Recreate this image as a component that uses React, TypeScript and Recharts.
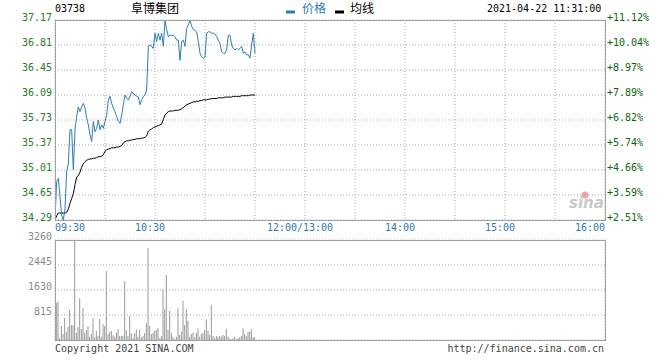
import React from 'react';
import { ComposedChart, Line, Bar, XAxis, YAxis, CartesianGrid } from 'recharts';

const priceValues = [
  34.29, 34.84, 34.89, 34.62, 34.36, 34.29, 34.45, 34.99, 35.10, 35.59,
  35.59, 35.01, 35.59, 35.78, 35.92, 35.85, 35.92, 35.97, 35.90, 35.76,
  35.66, 35.52, 35.42, 35.71, 35.56, 35.61, 35.73, 35.59, 35.66, 35.61,
  35.71, 35.80, 36.02, 36.07, 35.97, 35.90, 35.85, 35.78, 35.71, 35.68,
  35.80, 35.95, 36.09, 36.04, 36.02, 36.07, 36.14, 36.11, 36.09, 36.07,
  36.06, 35.95, 36.02, 36.07, 36.09, 36.16, 36.79, 36.81, 36.79, 36.76,
  36.98, 36.86, 36.98, 36.88, 36.98, 36.79, 37.17, 37.03, 36.93, 36.95,
  36.95, 36.95, 36.93, 36.88, 36.88, 36.59, 36.86, 36.88, 36.79, 37.05,
  37.10, 37.17, 37.08, 37.03, 37.02, 37.00, 36.86, 36.69, 36.64, 36.62,
  36.64, 36.98, 37.00, 37.00, 36.98, 36.98, 36.97, 36.93, 36.88, 36.83,
  36.71, 36.69, 36.69, 36.74, 36.95, 36.95, 36.81, 36.76, 36.74, 36.76,
  36.74, 36.76, 36.79, 36.69, 36.71, 36.67, 36.67, 36.62, 36.81, 36.98,
  36.69,
];

const avgValues = [
  34.29, 34.35, 34.39, 34.39, 34.39, 34.39, 34.39, 34.40, 34.45, 34.53,
  34.60, 34.67, 34.80, 34.91, 34.93, 34.98, 35.05, 35.10, 35.13, 35.15,
  35.16, 35.17, 35.17, 35.18, 35.18, 35.19, 35.20, 35.20, 35.21, 35.23,
  35.28, 35.30, 35.31, 35.32, 35.33, 35.33, 35.33, 35.34, 35.34, 35.35,
  35.36, 35.40, 35.42, 35.43, 35.43, 35.44, 35.44, 35.45, 35.45, 35.46,
  35.46, 35.46, 35.47, 35.47, 35.48, 35.50, 35.57, 35.59, 35.60, 35.62,
  35.63, 35.64, 35.65, 35.66, 35.67, 35.74, 35.80, 35.83, 35.85, 35.86,
  35.86, 35.86, 35.87, 35.87, 35.87, 35.88, 35.89, 35.91, 35.93, 35.95,
  35.96, 35.97, 35.98, 35.99, 35.99, 36.00, 36.00, 36.01, 36.01, 36.02,
  36.02, 36.02, 36.03, 36.03, 36.04, 36.04, 36.04, 36.04, 36.05, 36.05,
  36.05, 36.05, 36.06, 36.06, 36.06, 36.06, 36.06, 36.07, 36.07, 36.07,
  36.07, 36.07, 36.08, 36.08, 36.08, 36.08, 36.08, 36.09, 36.09, 36.09,
  36.09,
];

const volumeValues = [
  0,
  1217, 1250, 54, 456, 196, 728, 272, 435, 978, 489,
  489, 3238, 239, 413, 1358, 359, 1032, 239, 326, 456,
  109, 196, 706, 87, 304, 130, 685, 109, 511, 456,
  2250, 196, 261, 304, 152, 109, 239, 348, 130, 130,
  130, 1923, 326, 130, 782, 217, 54, 217, 348, 109,
  326, 87, 130, 217, 543, 2988, 456, 196, 239, 304,
  326, 380, 54, 130, 1652, 1000, 2119, 326, 945, 239,
  109, 22, 109, 1032, 163, 272, 1282, 489, 1000, 630,
  109, 196, 239, 87, 239, 380, 109, 196, 217, 326,
  674, 304, 163, 1141, 130, 54, 130, 87, 130, 109,
  163, 130, 359, 109, 54, 22, 54, 109, 22, 54,
  87, 130, 380, 196, 130, 272, 272, 359, 87, 87,
];

const priceTicks = [34.29, 34.65, 35.01, 35.37, 35.73, 36.09, 36.45, 36.81, 37.17];
const pctLabels = ['+2.51%', '+3.59%', '+4.66%', '+5.74%', '+6.82%', '+7.89%', '+8.97%', '+10.04%', '+11.12%'];
const volumeTicks = [0, 815, 1630, 2445, 3260];
const timeTicks = [0, 30, 60, 90, 120, 150, 180, 210, 240, 270, 300, 330];
const timeLabelPositions = [0, 60, 150, 210, 270, 330];
const timeLabelTexts = ['09:30', '10:30', '12:00/13:00', '14:00', '15:00', '16:00'];

const data = priceValues.map((p, i) => ({ m: i, price: p, avg: avgValues[i], vol: volumeValues[i] }));

const MONO = '"DejaVu Sans Mono", monospace';
const CJK = '"Noto Sans CJK SC", sans-serif';

const LeftTick = (props: any) => {
  const { y, payload } = props;
  return (
    <text x={52} y={y + 1} textAnchor="end" fontFamily={MONO} fontSize={10} fill="#2a7a2a">
      {Number(payload.value).toFixed(2)}
    </text>
  );
};

const RightTick = (props: any) => {
  const { y, index } = props;
  return (
    <text x={607} y={y + 1} textAnchor="start" fontFamily={MONO} fontSize={10} fill="#0c660c">
      {pctLabels[index]}
    </text>
  );
};

const TimeTick = (props: any) => {
  const { x, payload } = props;
  const idx = timeLabelPositions.indexOf(payload.value);
  if (idx < 0) return <g />;
  let anchor = 'middle';
  let tx = x - 5;
  if (idx === 0) { anchor = 'start'; tx = x; }
  if (idx === timeLabelPositions.length - 1) { anchor = 'end'; tx = x; }
  return (
    <text x={tx} y={231} textAnchor={anchor} fontFamily={MONO} fontSize={10} fill="#2b7ab5">
      {timeLabelTexts[idx]}
    </text>
  );
};

const VolTick = (props: any) => {
  const { y, payload } = props;
  if (payload.value === 0) return <g />;
  return (
    <text x={52} y={y} textAnchor="end" fontFamily={MONO} fontSize={10} fill="#8c8c8c">
      {payload.value}
    </text>
  );
};

export default function App() {
  return (
    <div style={{ position: 'absolute', left: 0, top: 0, width: 660, height: 360, background: '#fff', overflow: 'hidden' }}>
      <div style={{ position: 'absolute', left: 0, top: 0 }}>
        <ComposedChart width={660} height={240} data={data} margin={{ top: 20, right: 0, bottom: 0, left: 0 }}>
          <CartesianGrid yAxisId="l" stroke="#aaaaaa" strokeDasharray="1 2" />
          <XAxis dataKey="m" type="number" domain={[0, 330]} ticks={timeTicks} interval={0} height={20}
            axisLine={false} tickLine={false} tick={<TimeTick />} allowDataOverflow />
          <YAxis yAxisId="l" orientation="left" width={55} type="number" domain={[34.29, 37.17]} ticks={priceTicks}
            interval={0} axisLine={false} tickLine={false} tick={<LeftTick />} allowDataOverflow />
          <YAxis yAxisId="r" orientation="right" width={55} type="number" domain={[34.29, 37.17]} ticks={priceTicks}
            interval={0} axisLine={false} tickLine={false} tick={<RightTick />} allowDataOverflow />
          <Line yAxisId="l" type="linear" dataKey="avg" stroke="#000000" strokeWidth={1} dot={false} isAnimationActive={false} />
          <Line yAxisId="l" type="linear" dataKey="price" stroke="#2e7db5" strokeWidth={1} dot={false} isAnimationActive={false} />
        </ComposedChart>
      </div>
      <div style={{ position: 'absolute', left: 0, top: 230 }}>
        <ComposedChart width={660} height={110} data={data} margin={{ top: 10, right: 55, bottom: 0, left: 0 }}>
          <CartesianGrid stroke="#aaaaaa" strokeDasharray="1 2" />
          <XAxis dataKey="m" type="number" domain={[0, 330]} ticks={timeTicks} interval={0} height={0}
            axisLine={false} tickLine={false} tick={false} allowDataOverflow />
          <YAxis orientation="left" width={55} type="number" domain={[0, 3260]} ticks={volumeTicks}
            interval={0} axisLine={false} tickLine={false} tick={<VolTick />} allowDataOverflow />
          <Bar dataKey="vol" fill="#999999" barSize={1} isAnimationActive={false} />
        </ComposedChart>
      </div>
      <svg width={660} height={360} style={{ position: 'absolute', left: 0, top: 0, pointerEvents: 'none' }}>
        <rect x={55.5} y={20.5} width={550} height={200} fill="none" stroke="#a0a0a0" strokeWidth={1} />
        <rect x={55.5} y={240.5} width={550} height={100} fill="none" stroke="#a0a0a0" strokeWidth={1} />
        <text x={55} y={12} fontFamily={MONO} fontSize={10} fill="#000">03738</text>
        <text x={131} y={13} fontFamily={CJK} fontSize={12} fill="#000">阜博集团</text>
        <rect x={286} y={10.5} width={9} height={3} fill="#2e7db5" />
        <text x={302} y={13} fontFamily={CJK} fontSize={12} fill="#2e7db5">价格</text>
        <rect x={335} y={10.5} width={9} height={3} fill="#000" />
        <text x={350} y={13} fontFamily={CJK} fontSize={12} fill="#000">均线</text>
        <text x={487} y={12} fontFamily={MONO} fontSize={10} fill="#000">2021-04-22 11:31:00</text>
        <circle cx={585} cy={195} r={3.5} fill="#f0a0a0" />
        <text x={569} y={208} fontFamily="'DejaVu Sans', sans-serif" fontStyle="italic" fontWeight="bold" fontSize={15} fill="#c8c8c8">sina</text>
        <text x={55} y={352} fontFamily={MONO} fontSize={10} fill="#444">Copyright 2021 SINA.COM</text>
        <text x={604} y={352} textAnchor="end" fontFamily={MONO} fontSize={10} fill="#444">http://finance.sina.com.cn</text>
      </svg>
    </div>
  );
}
